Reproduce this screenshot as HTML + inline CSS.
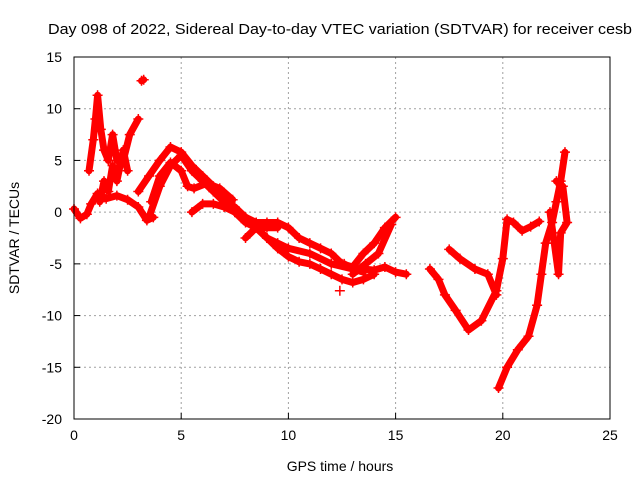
<!DOCTYPE html>
<html><head><meta charset="utf-8"><style>
body{margin:0;background:#fff;}
svg{display:block;font-family:"Liberation Sans",sans-serif;}
</style></head><body>
<svg id="chart" width="640" height="480" viewBox="0 0 640 480" xmlns="http://www.w3.org/2000/svg">
<rect width="640" height="480" fill="#fff"/>
<text x="48" y="34" font-size="15" textLength="584" lengthAdjust="spacingAndGlyphs">Day 098 of 2022, Sidereal Day-to-day VTEC variation (SDTVAR) for receiver cesb</text>
<text x="340" y="471" font-size="14" text-anchor="middle">GPS time / hours</text>
<text x="19" y="238" font-size="14" text-anchor="middle" transform="rotate(-90 19 238)">SDTVAR / TECUs</text>
<g id="grid"></g>
<g id="marks"></g>
<rect x="74" y="57" width="536" height="362" fill="none" stroke="#000" stroke-width="1"/>
</svg>
<script>
const xTicks=[0,5,10,15,20,25];
const yTicks=[-20,-15,-10,-5,0,5,10,15];
const trackA=[[0,0.3],[0.3,-0.6],[0.6,-0.2],[0.8,0.8],[1.1,1.8],[1.5,1.3],[2.0,1.6],[2.5,1.2],[3.0,0.5],[3.4,-0.8],[3.7,-0.5]];
const trackB=[[0.7,4],[0.9,7],[1.0,9],[1.1,11.3],[1.25,8],[1.4,6],[1.6,5],[1.8,7.5],[2.0,5],[2.3,5],[2.6,7.5],[3.0,9]];
const trackC=[[1.2,1],[1.4,3],[1.6,2],[1.8,4.5],[2.0,3],[2.3,6],[2.5,4]];
const trackD=[[3.15,12.7],[3.25,12.8]];
const trackE=[[3.0,2],[3.5,3.5],[4,5],[4.5,6.3],[5,5.8],[5.5,4.5],[6,3.5],[6.5,2.5],[7,1.5],[7.5,0],[8,-1],[8.5,-1.5],[9,-2.5],[9.5,-3.5],[10,-4.3],[10.5,-4.8],[11,-5],[11.5,-5.5],[12,-6],[12.5,-6.5],[13,-6.8],[13.5,-6.5],[14,-6]];
const trackF=[[3.5,-0.5],[4,2.5],[4.5,4.5],[5,5.5],[5.5,4],[6,3],[6.5,2],[7,1],[7.5,0.5],[8,-0.5],[8.5,-1.5],[9,-2.5],[9.5,-3],[10,-3.5],[11,-4],[12,-5],[13,-5.5],[13.5,-5.8]];
const trackG=[[3.6,1],[4,3.5],[4.5,4.8],[5,4],[5.3,2.5],[5.6,2.3],[6.2,2.8],[6.8,2.3],[7.4,1.2]];
const trackH=[[5.5,0],[6,0.8],[6.5,0.8],[7,0.5],[7.5,0],[8,-0.5],[8.5,-1],[9,-1],[9.5,-1],[10,-1.5],[10.5,-2.5],[11,-3],[11.5,-3.5],[12,-4],[12.5,-5],[13,-5.3],[13.5,-4],[14,-3],[14.5,-1.5],[15,-0.5]];
const trackI=[[8,-2.5],[8.5,-1.5],[9,-1.5],[9.5,-1.5]];
const trackJ=[[12.6,-5],[13,-5.5],[13.5,-5.5],[14,-5.6],[14.5,-5.3],[15,-5.8],[15.5,-6]];
const trackJ2=[[13,-6],[13.6,-5],[14.2,-4],[14.8,-1.2]];
const trackK=[[12.4,-7.6]];
const trackL=[[16.6,-5.5],[17,-6.5],[17.3,-8],[17.8,-9.5],[18.4,-11.4],[19,-10.5],[19.7,-7.6],[20,-4.5],[20.2,-0.7],[20.5,-1],[20.9,-1.8],[21.3,-1.4],[21.7,-0.9]];
const trackM=[[17.5,-3.6],[18,-4.5],[18.7,-5.5],[19.3,-6],[19.7,-8]];
const trackN=[[19.8,-17],[20.2,-15],[20.7,-13.3],[21.2,-12],[21.6,-9],[21.8,-6],[22,-3],[22.3,-1],[22.5,1],[22.7,3],[22.9,5.8]];
const trackO=[[22.2,0],[22.4,-3],[22.6,-6],[22.7,-2],[23,-1],[22.8,2.5],[22.5,3]];
const tracks=[trackA,trackB,trackC,trackD,trackE,trackF,trackG,trackH,trackI,trackJ,trackJ2,trackK,trackL,trackM,trackN,trackO];
const NS="http://www.w3.org/2000/svg";
const X0=74,X1=610,Y0=419,Y1=57,XMIN=0,XMAX=25,YMIN=-20,YMAX=15;
function sx(t){return X0+(t-XMIN)/(XMAX-XMIN)*(X1-X0);}
function sy(v){return Y0-(v-YMIN)/(YMAX-YMIN)*(Y0-Y1);}
const grid=document.getElementById('grid');
const marks=document.getElementById('marks');
function mk(tag,attrs,parent){const e=document.createElementNS(NS,tag);for(const k in attrs)e.setAttribute(k,attrs[k]);parent.appendChild(e);return e;}
xTicks.forEach(t=>{
  const x=sx(t);
  if(t>XMIN&&t<XMAX){const g=mk('line',{x1:x,x2:x,y1:Y1,y2:Y0,stroke:'#a0a0a0','stroke-dasharray':'2,3'},grid);
  
  }
  const tk=mk('line',{x1:x,x2:x,y1:Y0,y2:Y0-6,stroke:'#000'},grid);
  
  
  const lb=mk('text',{x:x,y:Y0+21,'font-size':14,'text-anchor':'middle'},grid);lb.textContent=t;
  
  
});
yTicks.forEach(v=>{
  const y=sy(v);
  if(v>YMIN&&v<YMAX){const g=mk('line',{x1:X0,x2:X1,y1:y,y2:y,stroke:'#a0a0a0','stroke-dasharray':'2,3'},grid);
  
  }
  const tk=mk('line',{x1:X0,x2:X0+6,y1:y,y2:y,stroke:'#000'},grid);
  
  
  const lb=mk('text',{x:X0-12,y:y+5,'font-size':14,'text-anchor':'end'},grid);lb.textContent=v;
  
  
});
tracks.forEach(tr=>{
  const pts=tr.map(p=>sx(p[0]).toFixed(1)+','+sy(p[1]).toFixed(1)).join(' ');
  const pl=mk('polyline',{points:pts,fill:'none',stroke:'#ff0000','stroke-width':7,'stroke-linejoin':'round','stroke-linecap':'round'},marks);
  
  
  tr.forEach(p=>{
    const x=sx(p[0]),y=sy(p[1]);
    const m=mk('path',{d:`M${x-5},${y}H${x+5}M${x},${y-5}V${y+5}`,stroke:'#ff0000','stroke-width':1.5},marks);
    
    
  });
});
</script>
</body></html>
